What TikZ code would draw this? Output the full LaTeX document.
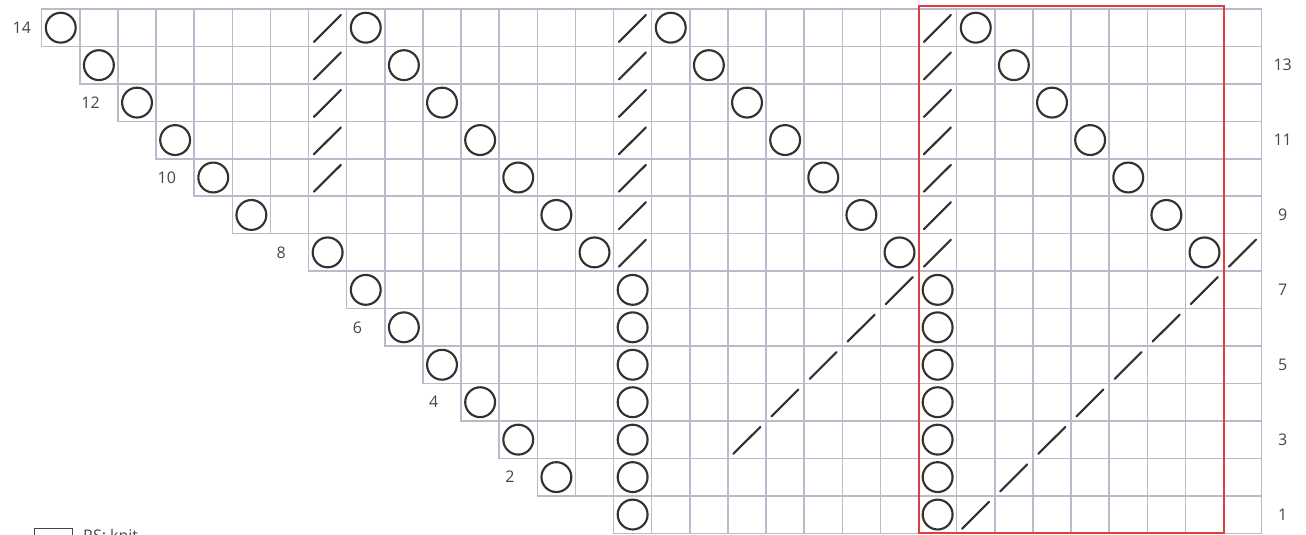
\documentclass[tikz,border=0pt]{standalone}
\usepackage{fontspec}
\setmainfont{Open Sans}
\usepackage{xcolor}
\usepackage{tikz}
\usetikzlibrary{calc, positioning}

\definecolor{luoi}{RGB}{186,186,202}
\definecolor{kyhieu}{RGB}{50,50,50}
\definecolor{khung}{RGB}{222,62,62}
\definecolor{chuso}{RGB}{70,70,70}

\begin{document}
\begin{tikzpicture}[x=28.594pt, y=28.0875pt,
    oluoi/.style={draw=luoi, line width=1.1pt},
    vong/.style={draw=kyhieu, line width=1.6pt},
    gach/.style={draw=kyhieu, line width=1.6pt, line cap=round},
    so/.style={text=chuso, font=\fontsize{12}{14}\selectfont, inner sep=0pt}]
    % Khung giới hạn của hình
    \useasboundingbox (-1.0938,-0.0454) rectangle (33.162,14.240);

    % Lưới ô: hàng / cột bắt đầu
    \foreach \r/\s in {14/1,13/2,12/3,11/4,10/5,9/6,8/8,7/9,6/10,5/11,4/12,3/13,2/14,1/16}
        \foreach \c in {\s,...,32}
            \draw[oluoi] (\c-1,\r-1) rectangle (\c,\r);

    % Các mũi vòng (yo)
    \foreach \c/\r in {1/14,2/13,3/12,4/11,5/10,6/9,8/8,9/7,10/6,11/5,12/4,13/3,14/2,
                       9/14,10/13,11/12,12/11,13/10,14/9,15/8,
                       17/14,18/13,19/12,20/11,21/10,22/9,23/8,
                       25/14,26/13,27/12,28/11,29/10,30/9,31/8,
                       16/1,16/2,16/3,16/4,16/5,16/6,16/7,
                       24/1,24/2,24/3,24/4,24/5,24/6,24/7}
        \draw[vong] (\c-0.5,\r-0.5) circle [radius=11.2pt];

    % Các mũi đan hai mũi chung (k2tog)
    \foreach \c/\r in {8/10,8/11,8/12,8/13,8/14,
                       16/8,16/9,16/10,16/11,16/12,16/13,16/14,
                       24/8,24/9,24/10,24/11,24/12,24/13,24/14,32/8,
                       19/3,20/4,21/5,22/6,23/7,
                       25/1,26/2,27/3,28/4,29/5,30/6,31/7}
        \draw[gach] (\c-0.86,\r-0.88) -- (\c-0.15,\r-0.16);

    % Khung đỏ đánh dấu phần lặp lại
    \draw[draw=khung, line width=1.4pt] (23,0) rectangle (31,14.08);

    % Số hàng bên phải
    \foreach \r in {1,3,...,13}
        \node[so] (hangP\r) at (32.55,\r-0.5) {\r};

    % Số hàng bên trái
    \node[so] (hangT14) at (-0.52,13.5) {14};
    \foreach \r/\s in {12/3,10/5,8/8,6/10,4/12,2/14}
        \node[so] (hangT\r) at (\s-1.72,\r-0.5) {\r};

    % Chú thích (bị cắt ở mép dưới)
    \draw[draw=chuso, line width=0.8pt] (-0.18,0.14) rectangle (0.82,-0.6);
    \node[so, anchor=north west] (chuthich) at (1.08,0.1) {RS: knit};
\end{tikzpicture}
\end{document}
